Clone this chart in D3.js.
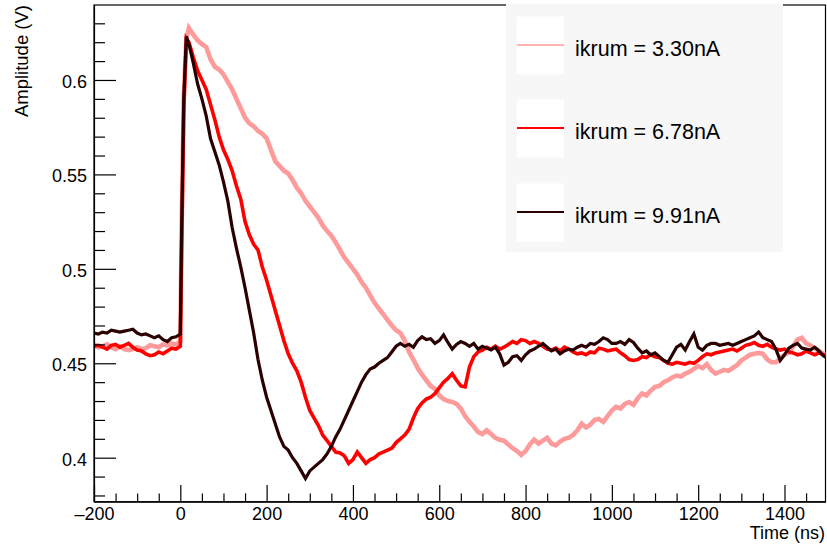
<!DOCTYPE html>
<html>
<head>
<meta charset="utf-8">
<script src="https://cdn.jsdelivr.net/npm/d3@7"></script>
<style>
  html, body { margin: 0; padding: 0; background: #ffffff; }
  svg { display: block; }
  text { font-family: "Liberation Sans", Arial, Helvetica, sans-serif; fill: #000; }
</style>
</head>
<body>
<svg id="chart" width="827" height="547"></svg>
<script>
// ---------------- data ----------------
const timeNs = [
  -200,-190,-180,-170,-160,-150,-140,-130,-120,-110,
  -100,-90,-80,-70,-60,-50,-40,-30,-20,-10,
  0, 3, 8, 14, 20,
  30,40,50,60,70,80,90,
  100,110,120,130,140,150,160,170,180,190,
  200,210,220,230,240,250,260,270,280,290,
  300,310,320,330,340,350,360,370,380,390,
  400,410,420,430,440,450,460,470,480,490,
  500,510,520,530,540,550,560,570,580,590,
  600,610,620,630,640,650,660,670,680,690,
  700,710,720,730,740,750,760,770,780,790,
  800,810,820,830,840,850,860,870,880,890,
  900,910,920,930,940,950,960,970,980,990,
  1000,1010,1020,1030,1040,1050,1060,1070,1080,1090,
  1100,1110,1120,1130,1140,1150,1160,1170,1180,1190,
  1200,1210,1220,1230,1240,1250,1260,1270,1280,1290,
  1300,1310,1320,1330,1340,1350,1360,1370,1380,1390,
  1400,1410,1420,1430,1440,1450,1460,1470,1480,1490,
  1500
];

const amp330 = [
  0.460,0.4585,0.459,0.460,0.4585,0.4575,0.459,0.4575,0.457,0.4575,
  0.4585,0.4575,0.458,0.4595,0.459,0.4585,0.460,0.4595,0.4605,0.460,
  0.4615, 0.52,0.59,0.622,0.6275,
  0.624,0.621,0.619,0.6175,0.611,0.607,0.6055,
  0.603,0.599,0.595,0.590,0.585,0.580,0.577,0.5755,0.573,0.5715,
  0.569,0.563,0.557,0.5545,0.552,0.5505,0.547,0.543,0.540,0.536,
  0.533,0.530,0.527,0.523,0.520,0.5175,0.514,0.510,0.506,0.503,
  0.500,0.497,0.493,0.490,0.486,0.482,0.479,0.476,0.473,0.470,
  0.4675,0.466,0.462,0.456,0.452,0.4475,0.444,0.441,0.438,0.4365,
  0.433,0.431,0.430,0.4295,0.4285,0.426,0.422,0.419,0.4165,0.4135,
  0.4125,0.4145,0.4125,0.4105,0.4095,0.409,0.407,0.405,0.4035,0.4015,
  0.4035,0.407,0.4095,0.4075,0.409,0.4105,0.4075,0.4065,0.4085,0.410,
  0.4105,0.412,0.4145,0.418,0.416,0.4175,0.420,0.4205,0.419,0.422,
  0.425,0.427,0.426,0.4285,0.4295,0.428,0.4315,0.434,0.433,0.4355,
  0.4375,0.438,0.440,0.441,0.4425,0.4435,0.443,0.4445,0.4455,0.447,
  0.4485,0.4475,0.4495,0.4465,0.4445,0.4455,0.4465,0.446,0.4475,0.449,
  0.4515,0.453,0.4545,0.455,0.4555,0.455,0.452,0.4505,0.4505,0.4525,
  0.4545,0.4555,0.459,0.4625,0.4635,0.4605,0.4595,0.458,0.4565,0.455,
  0.4545
];

const amp678 = [
  0.459,0.4595,0.4585,0.4575,0.4595,0.460,0.4585,0.4595,0.4605,0.4585,
  0.457,0.4565,0.455,0.454,0.4545,0.456,0.455,0.4565,0.458,0.4575,
  0.459, 0.51,0.585,0.622,0.620,
  0.612,0.605,0.600,0.595,0.587,0.579,0.570,
  0.563,0.558,0.552,0.544,0.537,0.525,0.518,0.513,0.510,0.501,
  0.494,0.486,0.478,0.470,0.462,0.455,0.450,0.446,0.440,0.432,
  0.425,0.421,0.417,0.412,0.409,0.406,0.403,0.4025,0.401,0.397,
  0.399,0.403,0.400,0.397,0.399,0.400,0.402,0.403,0.404,0.405,
  0.408,0.410,0.412,0.415,0.421,0.426,0.429,0.431,0.432,0.434,
  0.437,0.440,0.442,0.4445,0.441,0.438,0.4375,0.448,0.4535,0.456,
  0.457,0.4585,0.4575,0.459,0.4575,0.4585,0.460,0.4615,0.4605,0.4625,
  0.462,0.4605,0.4615,0.4605,0.459,0.4575,0.457,0.458,0.4565,0.4585,
  0.4575,0.456,0.455,0.4555,0.4545,0.456,0.4555,0.458,0.4575,0.4565,
  0.457,0.4575,0.4555,0.454,0.452,0.4515,0.452,0.4535,0.453,0.4545,
  0.4535,0.453,0.4515,0.450,0.4495,0.4505,0.450,0.4495,0.4505,0.450,
  0.4515,0.4535,0.455,0.4545,0.4555,0.456,0.4565,0.457,0.4575,0.4565,
  0.458,0.4595,0.460,0.461,0.4595,0.459,0.460,0.4585,0.4575,0.457,
  0.4575,0.456,0.4555,0.4545,0.455,0.4565,0.4555,0.4545,0.4555,0.4545,
  0.4535
];

const amp991 = [
  0.466,0.4655,0.4665,0.466,0.4675,0.467,0.4665,0.467,0.4675,0.468,
  0.466,0.465,0.4655,0.4645,0.4635,0.4645,0.4625,0.4615,0.4635,0.464,
  0.4655, 0.52,0.59,0.623,0.619,
  0.609,0.598,0.590,0.581,0.569,0.562,0.555,
  0.546,0.536,0.522,0.511,0.501,0.490,0.478,0.466,0.452,0.441,
  0.432,0.425,0.418,0.411,0.406,0.404,0.400,0.397,0.393,0.389,
  0.393,0.395,0.397,0.399,0.402,0.406,0.411,0.415,0.420,0.425,
  0.430,0.435,0.440,0.444,0.447,0.448,0.450,0.4515,0.453,0.456,
  0.459,0.4605,0.459,0.460,0.4585,0.462,0.464,0.4625,0.463,0.4605,
  0.462,0.465,0.461,0.4575,0.460,0.4615,0.4605,0.459,0.4605,0.4575,
  0.459,0.458,0.457,0.4585,0.455,0.449,0.4505,0.4535,0.454,0.4515,
  0.4545,0.4565,0.4575,0.459,0.4605,0.4585,0.4565,0.4575,0.455,0.4565,
  0.4575,0.457,0.4585,0.4595,0.4585,0.4605,0.460,0.4615,0.4635,0.4625,
  0.4605,0.4605,0.4615,0.460,0.4625,0.461,0.458,0.4555,0.4565,0.4545,
  0.4555,0.4535,0.4515,0.4505,0.4545,0.4585,0.460,0.457,0.4615,0.4655,
  0.4585,0.457,0.4595,0.4605,0.4605,0.4595,0.460,0.4605,0.4595,0.4605,
  0.4615,0.4625,0.4635,0.4645,0.4665,0.4635,0.4625,0.4615,0.4575,0.4515,
  0.4545,0.458,0.4595,0.4605,0.458,0.4575,0.457,0.4585,0.4565,0.454,
  0.4525
];

const seriesLabels = ["ikrum = 3.30nA", "ikrum = 6.78nA", "ikrum = 9.91nA"];
const seriesColors = ["#ff9a9a", "#ff0000", "#2b0000"];
const xMajorTicks = [-200, 0, 200, 400, 600, 800, 1000, 1200, 1400];
const yMajorTicks = [0.4, 0.45, 0.5, 0.55, 0.6];
const yTickLabels = ["0.4", "0.45", "0.5", "0.55", "0.6"];
const xTitle = "Time (ns)";
const yTitle = "Amplitude (V)";

// ---------------- chart ----------------
const svg = d3.select("#chart");
const L = 94, R = 825.5, T = 5, B = 501.7;

const x = d3.scaleLinear().domain([-200, 1495]).range([L, R]);
const y = d3.scaleLinear().domain([0.3767, 0.6397]).range([B, T]);

svg.append("clipPath").attr("id", "clip")
  .append("rect").attr("x", L).attr("y", T).attr("width", R - L).attr("height", B - T);

// frame
svg.append("rect").attr("x", L).attr("y", T).attr("width", R - L).attr("height", B - T)
  .attr("fill", "none").attr("stroke", "#000").attr("stroke-width", 1.2);

// lines
const widths = [4.6, 3.6, 3.2];
const allSeries = [amp330, amp678, amp991];
const line = d3.line().x(d => x(d[0])).y(d => y(d[1]));
const gLines = svg.append("g").attr("clip-path", "url(#clip)");
allSeries.forEach((vals, i) => {
  const pts = timeNs.map((t, k) => [t, vals[k]]);
  gLines.append("path").datum(pts)
    .attr("fill", "none")
    .attr("stroke", seriesColors[i])
    .attr("stroke-width", widths[i])
    .attr("stroke-linejoin", "miter")
    .attr("d", line);
});

// minor ticks
const xMinor = d3.range(-150, 1495, 50).filter(v => v % 200 !== 0);
const yMinor = d3.range(38, 64, 1).map(v => v / 100).filter(v => Math.round(v * 100) % 5 !== 0);

// x axis
const xAxisMajor = d3.axisBottom(x).tickValues(xMajorTicks).tickSize(-16.7).tickSizeOuter(0).tickPadding(5.5)
  .tickFormat(d => d < 0 ? "\u2013" + Math.abs(d) : String(d));
const gx = svg.append("g").attr("transform", `translate(0,${B})`).call(xAxisMajor);
const gxm = svg.append("g").attr("transform", `translate(0,${B})`)
  .call(d3.axisBottom(x).tickValues(xMinor).tickSize(-8.3).tickSizeOuter(0).tickFormat(""));
gxm.select(".domain").remove();

// y axis
const yAxisMajor = d3.axisLeft(y).tickValues(yMajorTicks).tickSize(-22).tickSizeOuter(0).tickPadding(7)
  .tickFormat((d, i) => yTickLabels[i]);
const gy = svg.append("g").attr("transform", `translate(${L},0)`).call(yAxisMajor);
const gym = svg.append("g").attr("transform", `translate(${L},0)`)
  .call(d3.axisLeft(y).tickValues(yMinor).tickSize(-11).tickSizeOuter(0).tickFormat(""));
gym.select(".domain").remove();

svg.selectAll(".tick line").attr("stroke", "#000").attr("stroke-width", 1.2);
svg.selectAll(".domain").attr("stroke", "#000").attr("stroke-width", 1.2);
svg.selectAll(".tick text").attr("font-size", 18).attr("fill", "#000")
  .style("font-family", '"Liberation Sans", Arial, Helvetica, sans-serif');
gy.selectAll(".tick text").attr("dy", "0.42em");

// axis titles
svg.append("text").attr("x", 825).attr("y", 539).attr("text-anchor", "end")
  .attr("font-size", 18).text(xTitle);
svg.append("text").attr("transform", "translate(28,5) rotate(-90)").attr("text-anchor", "end")
  .attr("font-size", 18.5).text(yTitle);

// legend
const lg = svg.append("g");
lg.append("rect").attr("x", 506).attr("y", 4).attr("width", 277).attr("height", 248).attr("fill", "#f7f7f7");
const rowY = [45, 128, 212];
seriesLabels.forEach((lab, i) => {
  lg.append("rect").attr("x", 516.7).attr("y", rowY[i] - 28.5).attr("width", 47.3).attr("height", 58).attr("fill", "#ffffff");
  lg.append("line").attr("x1", 517).attr("x2", 564).attr("y1", rowY[i]).attr("y2", rowY[i])
    .attr("stroke", seriesColors[i]).attr("stroke-width", i === 0 ? 1.6 : 2.2);
  lg.append("text").attr("x", 575).attr("y", rowY[i] + 10.5).attr("font-size", 21.5).text(lab);
});
</script>
</body>
</html>
